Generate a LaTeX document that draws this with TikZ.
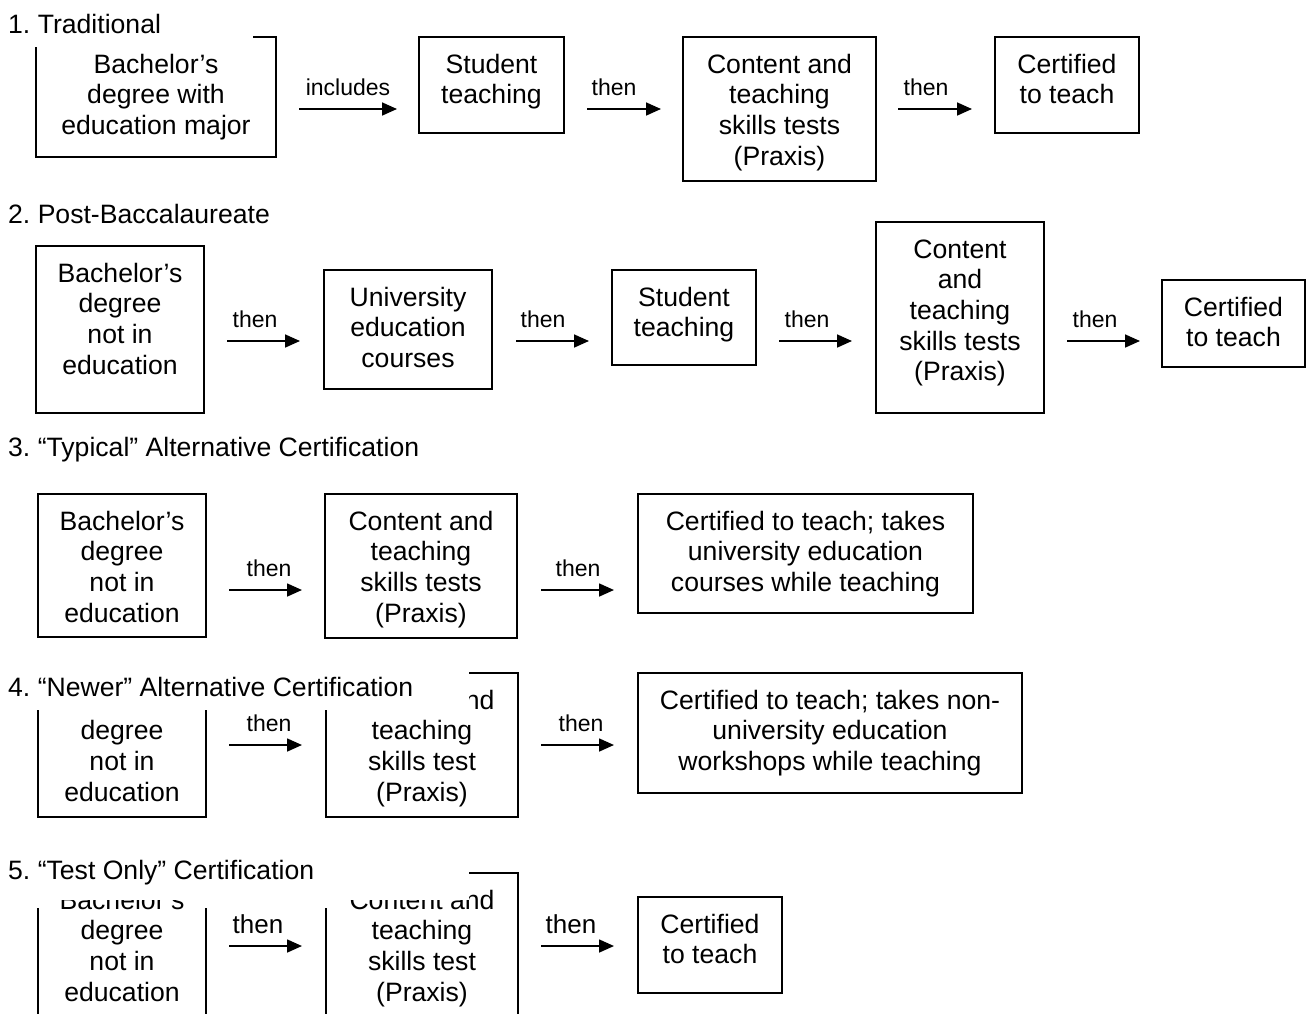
\documentclass[tikz,border=0pt]{standalone}
\usepackage{fontspec}
\setmainfont{Liberation Sans}
\usetikzlibrary{arrows.meta}
\frenchspacing
\newcommand\bigf{\fontsize{26.6}{30.6}\selectfont}
\newcommand\smallf{\fontsize{23}{26}\selectfont}
\newcommand\midf{\fontsize{26}{29}\selectfont}
\newcommand\fstr{\rule{0pt}{21pt}}
\tikzset{
  fbox/.style={draw, line width=1.7pt, inner sep=0pt, outer sep=0pt},
  ftxt/.style={anchor=north, align=center, inner sep=0pt, font=\bigf},
  lab/.style={anchor=base, inner sep=0pt},
  ttl/.style={anchor=base west, inner sep=0pt, font=\bigf},
  arr/.style={line width=1.7pt, -{Triangle[length=15pt,width=13pt]}},
}
% #1 name, #2 x1, #3 y1, #4 x2, #5 y2
\newcommand\flowframe[5]{%
  \node[fbox, minimum width={#4pt-#2pt}, minimum height={#5pt-#3pt}, anchor=north west] (#1) at (#2,#3) {};}
% #1 name, #2 text
\newcommand\flowtext[2]{%
  \node[ftxt] (#1t) at ([yshift=-15pt]#1.north) {\fstr #2};}
% #1 name, #2 x1, #3 y1, #4 x2, #5 y2, #6 text
\newcommand\flowbox[6]{\flowframe{#1}{#2}{#3}{#4}{#5}\flowtext{#1}{#6}}
% #1 name, #2 x1, #3 x2, #4 y, #5 label x, #6 label baseline y, #7 font, #8 text
\newcommand\flowarrow[8]{%
  \coordinate (#1s) at (#2,#4);
  \coordinate (#1e) at (#3,#4);
  \draw[arr] (#1s) -- (#1e);
  \node[lab, font=#7] (#1l) at (#5,#6) {#8};}
\begin{document}
\begin{tikzpicture}[x=1pt,y=-1pt]
\useasboundingbox (0,0) rectangle (1307,1013);
\clip (0,0) rectangle (1307,1013);
\fill[white] (0,0) rectangle (1307,1013);

% Section 1
\flowbox{a1}{36}{37}{276}{157}{Bachelor’s\\degree with\\education major}
\flowbox{b1}{419}{37}{564}{133}{Student\\teaching}
\flowbox{c1}{683}{37}{876}{181}{Content and\\teaching\\skills tests\\(Praxis)}
\flowbox{d1}{995}{37}{1139}{133}{Certified\\to teach}
\flowarrow{r1a}{299}{397}{109}{348}{95}{\smallf}{includes}
\flowarrow{r1b}{587}{661}{109}{614}{95}{\smallf}{then}
\flowarrow{r1c}{898}{972}{109}{926}{95}{\smallf}{then}

% Section 2
\flowbox{a2}{36}{246}{204}{413}{Bachelor’s\\degree\\not in\\education}
\flowbox{b2}{324}{270}{492}{389}{University\\education\\courses}
\flowbox{c2}{612}{270}{756}{365}{Student\\teaching}
\flowbox{d2}{876}{222}{1044}{413}{Content\\and\\teaching\\skills tests\\(Praxis)}
\flowbox{e2}{1162}{280}{1305}{367}{Certified\\to teach}
\flowarrow{r2a}{227}{300}{341}{255}{327}{\smallf}{then}
\flowarrow{r2b}{516}{589}{341}{543}{327}{\smallf}{then}
\flowarrow{r2c}{779}{852}{341}{807}{327}{\smallf}{then}
\flowarrow{r2d}{1067}{1140}{341}{1095}{327}{\smallf}{then}

% Section 3
\flowbox{a3}{38}{494}{206}{637}{Bachelor’s\\degree\\not in\\education}
\flowbox{b3}{325}{494}{517}{638}{Content and\\teaching\\skills tests\\(Praxis)}
\flowbox{c3}{638}{494}{973}{613}{Certified to teach; takes\\university education\\courses while teaching}
\flowarrow{r3a}{229}{302}{590}{269}{576}{\smallf}{then}
\flowarrow{r3b}{541}{614}{590}{578}{576}{\smallf}{then}

% Section 4
\flowbox{a4}{38}{673}{206}{817}{Bachelor’s\\degree\\not in\\education}
\flowbox{b4}{326}{673}{518}{817}{Content and\\teaching\\skills test\\(Praxis)}
\flowbox{c4}{638}{673}{1022}{793}{Certified to teach; takes non-\\university education\\workshops while teaching}
\flowarrow{r4a}{229}{302}{745}{269}{731}{\smallf}{then}
\flowarrow{r4b}{541}{614}{745}{581}{731}{\smallf}{then}

% Section 5
\flowframe{a5}{38}{873}{206}{1040}
\flowframe{b5}{326}{873}{518}{1040}
\flowbox{c5}{638}{897}{782}{993}{Certified\\to teach}
\flowarrow{r5a}{229}{302}{946}{258}{933}{\midf}{then}
\flowarrow{r5b}{541}{614}{946}{571}{933}{\midf}{then}

% Titles (white text areas over the boxes)
\fill[white] (0,0) rectangle (253,47);
\fill[white] (0,662) rectangle (469,710);
\fill[white] (0,850) rectangle (469,908);
\node[ttl] (t1) at (8,33) {1. Traditional};
\node[ttl] (t2) at (8,223) {2. Post-Baccalaureate};
\node[ttl] (t3) at (8,456) {3. “Typical” Alternative Certification};
\node[ttl] (t4) at (8,696) {4. “Newer” Alternative Certification};
\node[ttl] (t5) at (8,879) {5. “Test Only” Certification};

% Section 5 box texts, partly showing below the title area
\begin{scope}
  \clip (0,900) rectangle (1307,1013);
  \flowtext{a5}{Bachelor’s\\degree\\not in\\education}
\end{scope}
\begin{scope}
  \clip (0,900) rectangle (469,1013) (469,850) rectangle (1307,1013);
  \flowtext{b5}{Content and\\teaching\\skills test\\(Praxis)}
\end{scope}
\end{tikzpicture}
\end{document}
